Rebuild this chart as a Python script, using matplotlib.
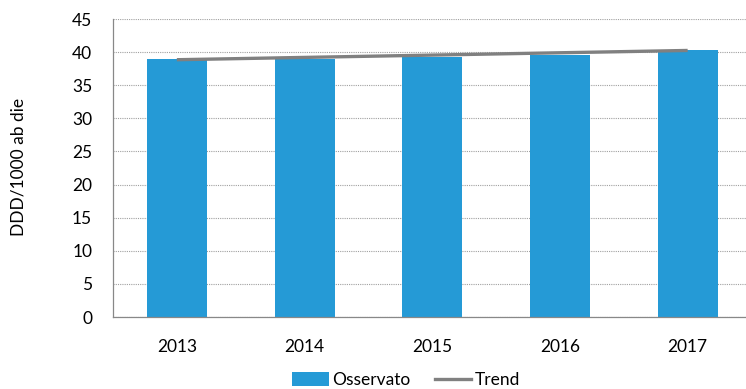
import matplotlib
matplotlib.use("Agg")
import matplotlib.pyplot as plt
from matplotlib.patches import Patch
from matplotlib.lines import Line2D

years = ["2013", "2014", "2015", "2016", "2017"]
osservato = [38.9, 39.0, 39.2, 39.6, 40.3]
trend = [38.85, 39.2, 39.55, 39.9, 40.25]
yticks = [0, 5, 10, 15, 20, 25, 30, 35, 40, 45]

plt.rcParams['font.family'] = ['Lato', 'DejaVu Sans']

fig = plt.figure(figsize=(7.46, 3.89), dpi=100)
ax = fig.add_axes([113/746, (389-317)/389, 638.5/746, (317-19)/389])

x = list(range(len(years)))
ax.bar(x, osservato, width=0.47, color="#259AD6", zorder=2)
ax.plot(x, trend, color="#808080", linewidth=2.4, zorder=3, solid_capstyle="butt")

ax.set_xlim(-0.5, 4.5)
ax.set_ylim(0, 45)
ax.set_yticks(yticks)
ax.set_yticklabels([str(v) for v in yticks])
ax.set_xticks(x)
ax.set_xticklabels(years)
ax.tick_params(axis="both", length=0, labelsize=12.5, colors="black")
ax.tick_params(axis="x", pad=16)
ax.tick_params(axis="y", pad=15)
ax.yaxis.grid(True, linestyle=(0, (1, 1)), color="#a0a0a0", linewidth=0.8, zorder=0)
ax.set_axisbelow(True)
for s in ["top", "right"]:
    ax.spines[s].set_visible(False)
for s in ["left", "bottom"]:
    ax.spines[s].set_color("#888888")
    ax.spines[s].set_linewidth(0.9)

fig.text(19/746, 1 - 167/389, "DDD/1000 ab die", rotation=90, ha="center", va="center", fontsize=12.5)

handles = [Patch(facecolor="#259AD6", edgecolor="none"),
           Line2D([0], [0], color="#808080", linewidth=2.4)]
fig.legend(handles, ["Osservato", "Trend"], loc="center", bbox_to_anchor=(406/746, 1 - 380/389),
           ncol=2, frameon=False, fontsize=12.5, handlelength=2.1, handleheight=0.9,
           columnspacing=1.4, handletextpad=0.2)

fig.savefig("out.png", dpi=100)
